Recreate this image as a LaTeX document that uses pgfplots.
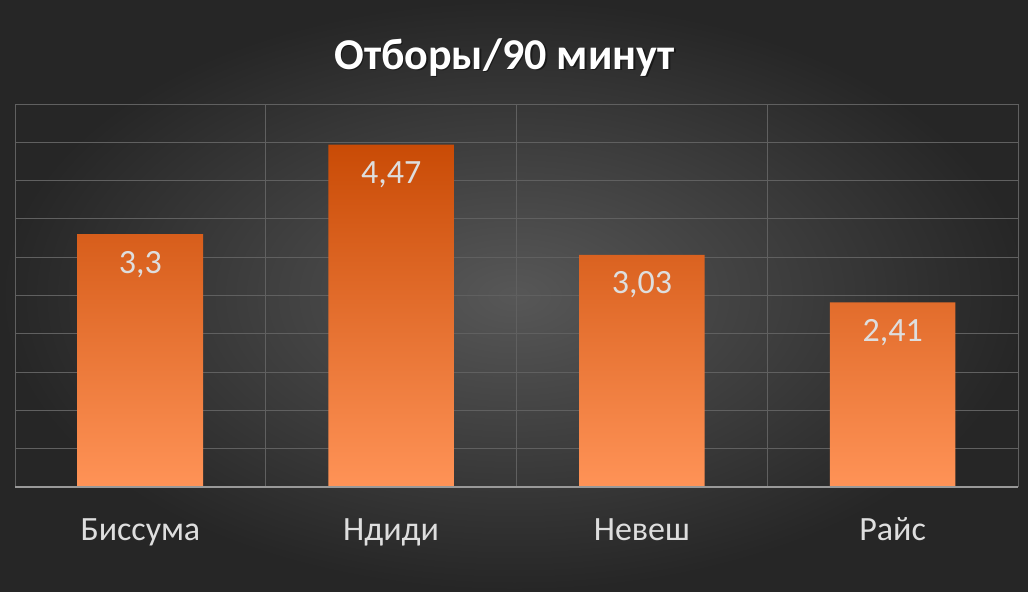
\documentclass[border=0pt]{standalone}
\usepackage{pgfplots}
\pgfplotsset{compat=1.18}
\usepackage{fontspec}
\setmainfont{Carlito}

\definecolor{bgin}{HTML}{575757}
\definecolor{bgout}{HTML}{262626}
\definecolor{bartop}{HTML}{C94B06}
\definecolor{barbot}{HTML}{FF9357}
\definecolor{gridc}{HTML}{606060}
\definecolor{txt}{HTML}{DEDEDE}

\begin{document}
\begin{tikzpicture}[x=1pt,y=1pt]
% background, 1px = 0.5pt
\shade[inner color=bgin, outer color=bgout] (0,0) rectangle (514,295.5);
\node[anchor=base, font=\bfseries\fontsize{22}{26}\selectfont, text=black, opacity=0.45] at (253,260.2) {Отборы/90 минут};
\node[anchor=base, font=\bfseries\fontsize{22}{26}\selectfont, text=white] at (252.2,261) {Отборы/90 минут};
\begin{axis}[
    at={(7.5pt,52pt)}, anchor=south west,
    scale only axis, width=501.5pt, height=191.5pt,
    ybar, bar width=0.5,
    xmin=-0.5, xmax=3.5, ymin=0, ymax=5,
    axis line style={draw=none},
    xtick={0,1,2,3},
    xticklabels={Биссума, Ндиди, Невеш, Райс},
    minor xtick={-0.5,0.5,1.5,2.5,3.5},
    xminorgrids, ymajorgrids,
    ytick={0,0.5,...,5}, yticklabels={},
    major tick length=0, minor tick length=0,
    grid style={gridc, line width=0.5pt},
    minor grid style={gridc, line width=0.5pt},
    xticklabel style={font=\fontsize{17}{20}\selectfont, text=txt, anchor=base, yshift=-26.5pt},
    nodes near coords,
    point meta=y,
    every node near coord/.append style={font=\fontsize{17}{20}\selectfont, text=txt, anchor=center, yshift=-15pt,
        /pgf/number format/.cd, use comma, assume math mode=true},
]
\addplot[draw=none, top color=bartop, bottom color=barbot] coordinates {
    (0,3.3) (1,4.47) (2,3.03) (3,2.41)
};
\draw[color=black!40, line width=1pt] (axis cs:-0.5,0) -- (axis cs:3.5,0);
\end{axis}
\end{tikzpicture}
\end{document}
